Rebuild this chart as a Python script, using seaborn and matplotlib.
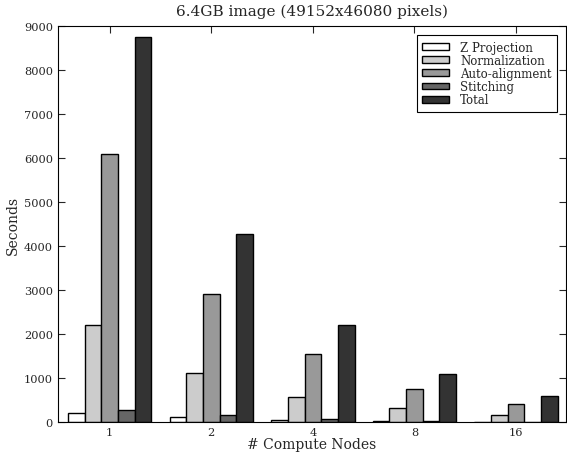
import numpy as np
import pandas as pd
import matplotlib
matplotlib.use('Agg')
import matplotlib.pyplot as plt
import seaborn as sns

# data
nodes = ['1', '2', '4', '8', '16']
stages = ['Z Projection', 'Normalization', 'Auto-alignment', 'Stitching', 'Total']
z_projection = [200, 110, 50, 20, 10]
normalization = [2200, 1110, 570, 320, 160]
auto_alignment = [6100, 2910, 1545, 750, 410]
stitching = [270, 160, 70, 30, 15]
total = [8760, 4280, 2200, 1090, 590]
y_ticks = [0, 1000, 2000, 3000, 4000, 5000, 6000, 7000, 8000, 9000]

df = pd.DataFrame({'nodes': nodes * 5,
                   'stage': np.repeat(stages, len(nodes)),
                   'seconds': z_projection + normalization + auto_alignment + stitching + total})

sns.set_style('ticks')
plt.rcParams['font.family'] = ['DejaVu Serif']

fig = plt.figure(figsize=(5.67, 4.56), dpi=100)
ax = fig.add_axes([0.102, 0.072, 0.896, 0.868])

palette = ['#ffffff', '#cccccc', '#999999', '#666666', '#333333']
sns.barplot(data=df, x='nodes', y='seconds', hue='stage', order=nodes, hue_order=stages,
            palette=palette, edgecolor='black', linewidth=1.0, width=0.82, saturation=1,
            ax=ax)

ax.set_xlim(-0.51, 4.49)
ax.set_ylim(0, 9000)
ax.set_yticks(y_ticks)
ax.tick_params(direction='in', top=True, right=True, labelsize=8.2, length=5, width=0.8)
for s in ax.spines.values():
    s.set_linewidth(0.8)
    s.set_color('black')
ax.set_xlabel('# Compute Nodes', fontsize=10, labelpad=0)
ax.set_ylabel('Seconds', fontsize=10, labelpad=3)
ax.set_title('6.4GB image (49152x46080 pixels)', fontsize=11, pad=8)

leg = ax.legend(loc='upper right', fontsize=8.5, fancybox=False, framealpha=1,
                edgecolor='black', handlelength=2.3, handleheight=0.5,
                labelspacing=0.02, borderpad=0.45, handletextpad=0.95,
                borderaxespad=0.75)
leg.get_frame().set_linewidth(0.8)

fig.savefig('out.png', dpi=100)
